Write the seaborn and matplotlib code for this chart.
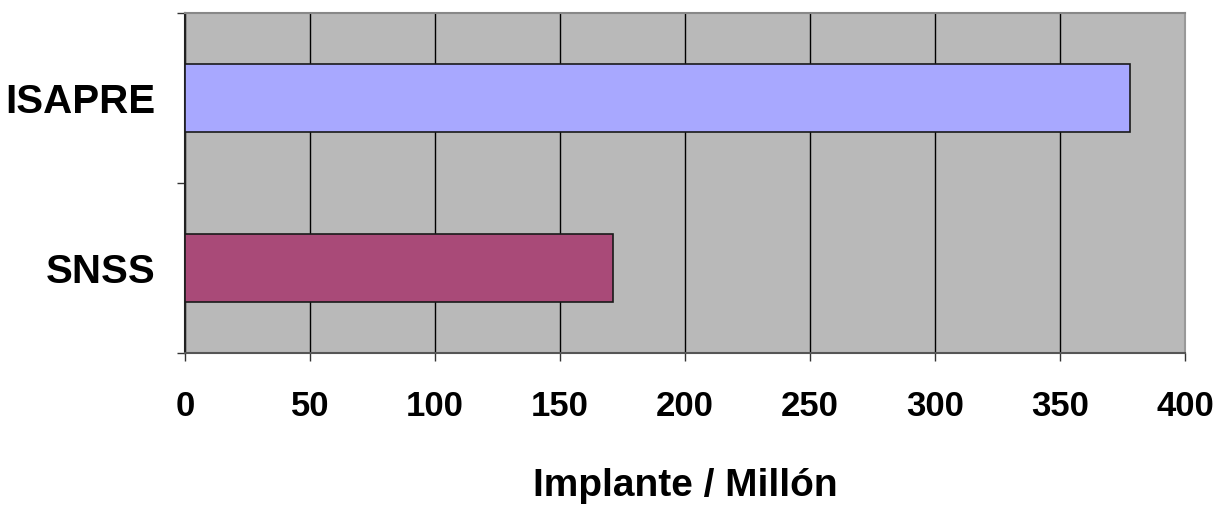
import matplotlib
matplotlib.use("Agg")
import matplotlib.pyplot as plt
import seaborn as sns
import pandas as pd
from matplotlib.ticker import FixedLocator

categories = ["ISAPRE", "SNSS"]
values = [378, 171]
bar_colors = ["#A8A8FF", "#A94A78"]
xticks = [0, 50, 100, 150, 200, 250, 300, 350, 400]
xlabel = "Implante / Millón"

sns.set_theme(style="white")
plt.rcParams['font.family'] = ['Liberation Sans', 'DejaVu Sans']
plt.rcParams['text.color'] = 'black'
plt.rcParams['xtick.color'] = 'black'
plt.rcParams['ytick.color'] = 'black'
plt.rcParams['axes.labelcolor'] = 'black'

df = pd.DataFrame({"cat": categories, "val": values})

fig = plt.figure(figsize=(12.23, 5.05), dpi=100)
ax = fig.add_axes([185/1223, 152/505, 1000/1223, 340/505])
ax.set_facecolor("#B9B9B9")

sns.barplot(data=df, x="val", y="cat", hue="cat", palette=bar_colors, orient="h",
            width=0.4, saturation=1, edgecolor="#1a1a1a", linewidth=1.2,
            legend=False, ax=ax, zorder=3)

ax.set_xlim(0, 400)
ax.set_ylim(1.5, -0.5)
ax.xaxis.set_major_locator(FixedLocator(xticks))
ax.set_xticklabels([str(t) for t in xticks], fontsize=25, fontweight="bold")
ax.grid(axis="x", color="black", linewidth=1.0, zorder=1)
ax.set_axisbelow(True)

ax.set_yticks([0, 1])
ax.set_yticklabels(categories, fontsize=29, fontweight="bold")
ax.tick_params(axis="y", which="major", length=0, pad=21)
ax.yaxis.set_minor_locator(FixedLocator([-0.5, 0.5, 1.5]))
ax.tick_params(axis="y", which="minor", left=True, length=6, width=1.0, color="#333333")
ax.tick_params(axis="x", which="major", bottom=True, length=6, width=1.0, color="#333333", pad=21)

ax.set_xlabel(xlabel, fontsize=28, fontweight="bold", labelpad=32)
ax.set_ylabel("")

for side, col in [("left", "#222222"), ("bottom", "#555555"), ("top", "#888888"), ("right", "#999999")]:
    ax.spines[side].set_visible(True)
    ax.spines[side].set_color(col)
    ax.spines[side].set_linewidth(1.5)

fig.savefig("out.png", dpi=100)
